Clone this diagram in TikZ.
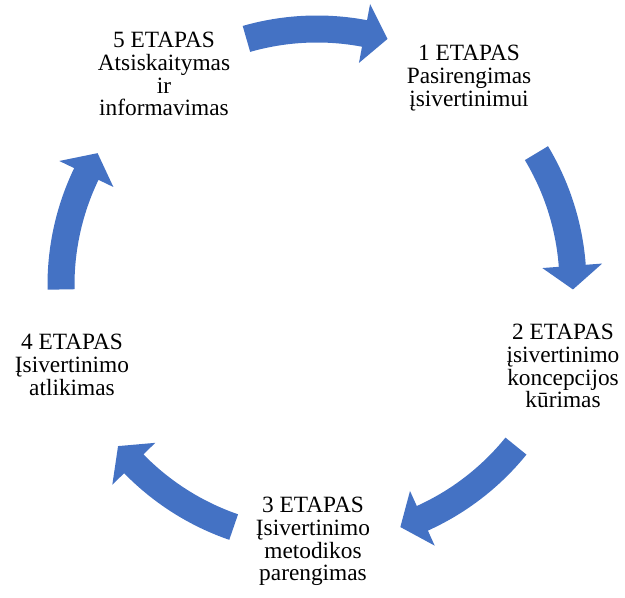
\documentclass[tikz,border=0pt]{standalone}
\usepackage{fontspec}
\setmainfont{Liberation Serif}
\usepackage{tikz}
\definecolor{cycblue}{RGB}{68,114,196}
\tikzset{every picture/.style={line width=0.75pt}}
\tikzset{
  stage/.style={anchor=north, inner sep=0pt, align=center, font=\fontsize{17.5}{17}\selectfont},
  cycarrow/.style={fill=cycblue, draw=none}
}

\begin{document}
\begin{tikzpicture}[x=0.75pt,y=0.75pt,yscale=-1,xscale=1]
\useasboundingbox (0,0) rectangle (625,598);
\coordinate (ctr) at (317,285);

%Shape: Circular Arrow [top, 5 -> 1]
\begin{scope}[shift={(ctr)}]
\fill[cycarrow] (-106:269.5) arc[start angle=-106, end angle=-79.3, radius=269.5] -- (-79.3:286) -- (-74:256) -- (-79.3:226) -- (-79.3:242.5) arc[start angle=-79.3, end angle=-106, radius=242.5] -- cycle ;
\end{scope}
%Shape: Circular Arrow [right, 1 -> 2]
\begin{scope}[shift={(ctr)}]
\fill[cycarrow] (-31:269.5) arc[start angle=-31, end angle=-4.3, radius=269.5] -- (-4.3:286) -- (1:256) -- (-4.3:226) -- (-4.3:242.5) arc[start angle=-4.3, end angle=-31, radius=242.5] -- cycle ;
\end{scope}
%Shape: Circular Arrow [bottom right, 2 -> 3]
\begin{scope}[shift={(ctr)}]
\fill[cycarrow] (39:269.5) arc[start angle=39, end angle=65.7, radius=269.5] -- (65.7:286) -- (71:256) -- (65.7:226) -- (65.7:242.5) arc[start angle=65.7, end angle=39, radius=242.5] -- cycle ;
\end{scope}
%Shape: Circular Arrow [bottom left, 3 -> 4]
\begin{scope}[shift={(ctr)}]
\fill[cycarrow] (109:269.5) arc[start angle=109, end angle=135.7, radius=269.5] -- (135.7:286) -- (141:256) -- (135.7:226) -- (135.7:242.5) arc[start angle=135.7, end angle=109, radius=242.5] -- cycle ;
\end{scope}
%Shape: Circular Arrow [left, 4 -> 5]
\begin{scope}[shift={(ctr)}]
\fill[cycarrow] (179:269.5) arc[start angle=179, end angle=205.7, radius=269.5] -- (205.7:286) -- (211:256) -- (205.7:226) -- (205.7:242.5) arc[start angle=205.7, end angle=179, radius=242.5] -- cycle ;
\end{scope}

% Text Node
\node[stage] (st1) at (469,45) {1 ETAPAS\\Pasirengimas\\įsivertinimui};
% Text Node
\node[stage] (st2) at (563,324) {2 ETAPAS\\įsivertinimo\\koncepcijos\\kūrimas};
% Text Node
\node[stage] (st3) at (313,497) {3 ETAPAS\\Įsivertinimo\\metodikos\\parengimas};
% Text Node
\node[stage] (st4) at (72,334) {4 ETAPAS\\Įsivertinimo\\atlikimas};
% Text Node
\node[stage] (st5) at (164,32) {5 ETAPAS\\Atsiskaitymas\\ir\\informavimas};

\end{tikzpicture}
\end{document}
